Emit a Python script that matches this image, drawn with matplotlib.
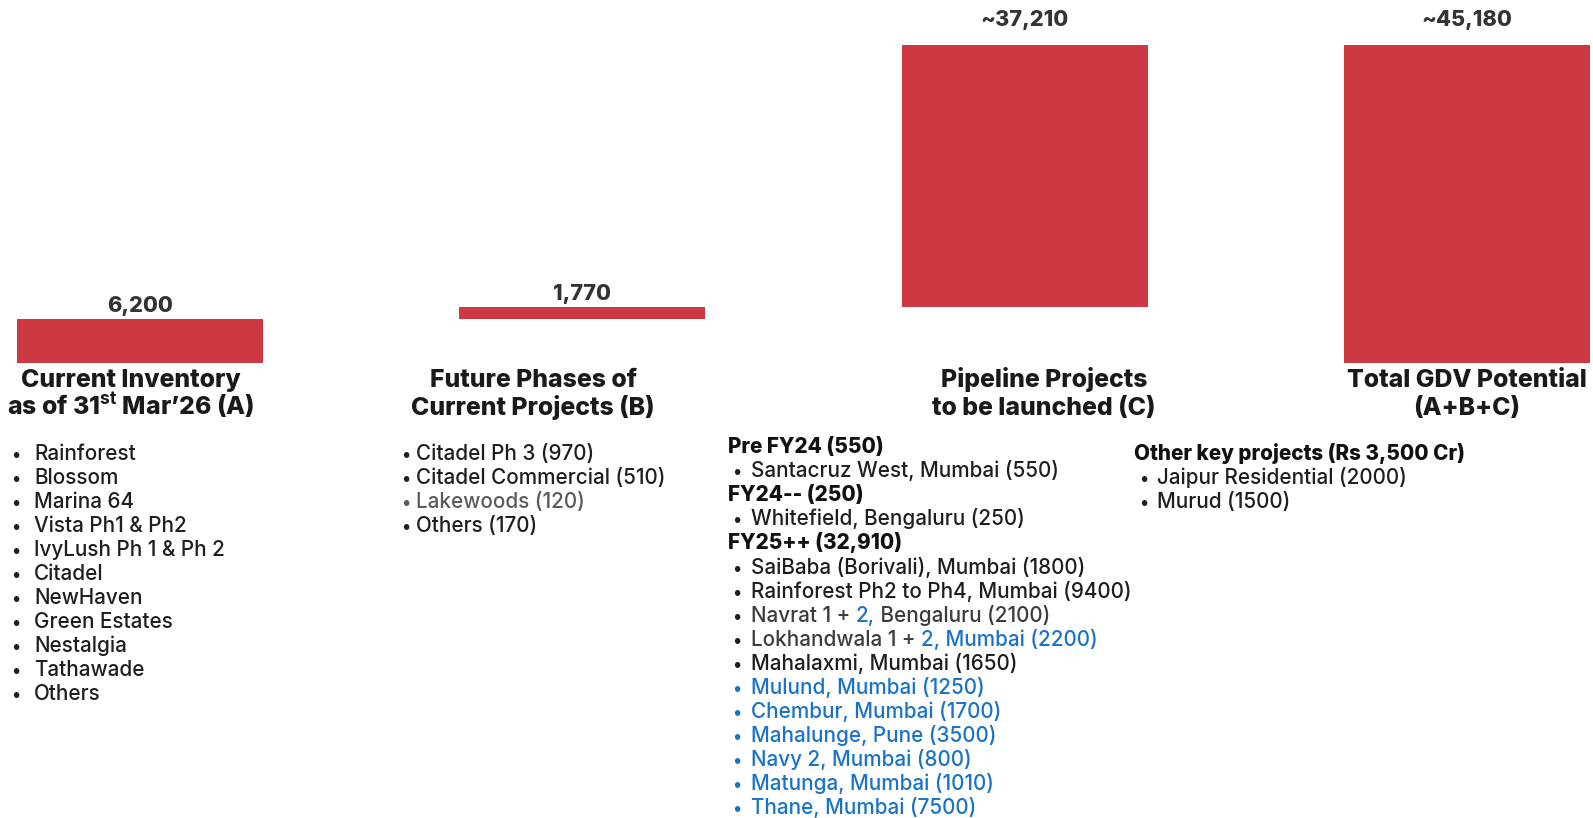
import matplotlib
matplotlib.use('Agg')
import matplotlib.pyplot as plt

# ---------------- data ----------------
categories = ['Current Inventory\nas of 31$^{\\mathbf{st}}$ Mar’26 (A)',
              'Future Phases of\nCurrent Projects (B)',
              'Pipeline Projects\nto be launched (C)',
              'Total GDV Potential\n(A+B+C)']
values = [6200, 1770, 37210, 45180]
value_labels = ['6,200', '1,770', '~37,210', '~45,180']
is_total = [False, False, False, True]

list_A = ['Rainforest', 'Blossom', 'Marina 64', 'Vista Ph1 & Ph2', 'IvyLush Ph 1 & Ph 2',
          'Citadel', 'NewHaven', 'Green Estates', 'Nestalgia', 'Tathawade', 'Others']
list_B = ['Citadel Ph 3 (970)', 'Citadel Commercial (510)', 'Lakewoods (120)', 'Others (170)']
list_B_tone = ['dark', 'dark', 'gray', 'dark']

pipeline_headers = ['Pre FY24 (550)', 'FY24-- (250)', 'FY25++ (32,910)']
pipeline_items = [
    [[('Santacruz West, Mumbai (550)', 'dark')]],
    [[('Whitefield, Bengaluru (250)', 'dark')]],
    [[('SaiBaba (Borivali), Mumbai (1800)', 'dark')],
     [('Rainforest Ph2 to Ph4, Mumbai (9400)', 'dark')],
     [('Navrat 1 + ', 'mid'), ('2,', 'blue'), (' Bengaluru (2100)', 'mid')],
     [('Lokhandwala 1 + ', 'mid'), ('2, Mumbai (2200)', 'blue')],
     [('Mahalaxmi, Mumbai (1650)', 'dark')],
     [('Mulund, Mumbai (1250)', 'blue')],
     [('Chembur, Mumbai (1700)', 'blue')],
     [('Mahalunge, Pune (3500)', 'blue')],
     [('Navy 2, Mumbai (800)', 'blue')],
     [('Matunga, Mumbai (1010)', 'blue')],
     [('Thane, Mumbai (7500)', 'blue')]],
]
other_header = 'Other key projects (Rs 3,500 Cr)'
other_items = ['Jaipur Residential (2000)', 'Murud (1500)']

# ---------------- style ----------------
FONT = 'Inter'
plt.rcParams['font.family'] = [FONT, 'DejaVu Sans']
plt.rcParams['mathtext.fontset'] = 'custom'
plt.rcParams['mathtext.bf'] = FONT + ':bold'
plt.rcParams['mathtext.rm'] = FONT

RED = '#CE3843'
tones = {'dark': '#1E1E1E', 'mid': '#3C3C3C', 'gray': '#5A5A5A', 'blue': '#1A73C6'}
BODY_W = 500
HEAD_W = 800

W, H = 1593, 818
fig = plt.figure(figsize=(W / 100, H / 100), dpi=100)
fig.patch.set_facecolor('white')
renderer = fig.canvas.get_renderer()


def width_of(s, **kw):
    t = fig.text(0, 0, s + 'x', **kw)
    w1 = t.get_window_extent(renderer).width
    t.remove()
    t = fig.text(0, 0, 'x', **kw)
    w2 = t.get_window_extent(renderer).width
    t.remove()
    return w1 - w2


def fit_size(sample, target_px, **kw):
    w = width_of(sample, fontsize=10, **kw)
    return 10 * target_px / w


BODY = fit_size('Santacruz West, Mumbai (550)', 308, fontweight=BODY_W)
TITLE = fit_size('Current Inventory', 220, fontweight=HEAD_W)
VAL = min(fit_size('6,200', 66, fontweight=HEAD_W), TITLE)

ax = fig.add_axes([0, 0, 1, 1])
ax.set_xlim(-0.3165, 3.285)
ax.set_ylim(-64644, 51573)
ax.axis('off')

# waterfall bars
bottoms = []
run = 0
for v, tot in zip(values, is_total):
    if tot:
        bottoms.append(0)
    else:
        bottoms.append(run)
        run += v
label_offsets = [5, 5, 14, 14]
for i, (v, b) in enumerate(zip(values, bottoms)):
    ax.bar(i, v, bottom=b, width=0.556, color=RED, edgecolor='none')
    ax.annotate(value_labels[i], xy=(i, b + v), xytext=(0, label_offsets[i]),
                textcoords='offset points', ha='center', va='baseline',
                fontsize=VAL, fontweight=HEAD_W, color='#333333')


def fx(x):
    return x / W


def fy(y):
    return 1 - y / H


# category titles (two lines, centered)
title_x = [131, 533, 1044, 1467]
for cx, lab in zip(title_x, categories):
    lines = lab.split('\n')
    for k, ln in enumerate(lines):
        fig.text(fx(cx), fy(387 + 28 * k), ln, ha='center', va='baseline',
                 fontsize=TITLE, fontweight=HEAD_W, color='#1A1A1A')

BASE = 6  # baseline offset below line centre


def seg_line(x, y, segs, **kw):
    prefix = ''
    for s, tone in segs:
        off = width_of(prefix, **kw) if prefix else 0
        fig.text(fx(x + off), fy(y + BASE), s, color=tones[tone], va='baseline', **kw)
        prefix += s


def bullet(x, y, tone):
    fig.text(fx(x), fy(y + BASE), '•', color=tones[tone], va='baseline',
             fontsize=BODY * 0.85, fontweight=BODY_W)


# list A
for k, item in enumerate(list_A):
    y = 454 + 23.97 * k
    bullet(11, y, 'dark')
    seg_line(34, y, [(item, 'dark')], fontsize=BODY, fontweight=BODY_W)

# list B
for k, (item, tone) in enumerate(zip(list_B, list_B_tone)):
    y = 454 + 23.97 * k
    bullet(401, y, tone)
    seg_line(416, y, [(item, tone)], fontsize=BODY, fontweight=BODY_W)

# pipeline list C
row = 0
for hdr, items in zip(pipeline_headers, pipeline_items):
    y = 447 + 24.1 * row
    fig.text(fx(728), fy(y + BASE), hdr, va='baseline', fontsize=BODY,
             fontweight=HEAD_W, color='#111111')
    row += 1
    for segs in items:
        y = 447 + 24.1 * row
        bullet(732, y, segs[0][1] if segs[0][1] == 'blue' else 'dark')
        seg_line(751, y, segs, fontsize=BODY, fontweight=BODY_W)
        row += 1

# other key projects
fig.text(fx(1134), fy(454 + BASE), other_header, va='baseline', fontsize=BODY,
         fontweight=HEAD_W, color='#111111')
for k, item in enumerate(other_items):
    y = 478 + 24 * k
    bullet(1139, y, 'dark')
    seg_line(1157, y, [(item, 'dark')], fontsize=BODY, fontweight=BODY_W)

fig.savefig('out.png', dpi=100, facecolor='white')
